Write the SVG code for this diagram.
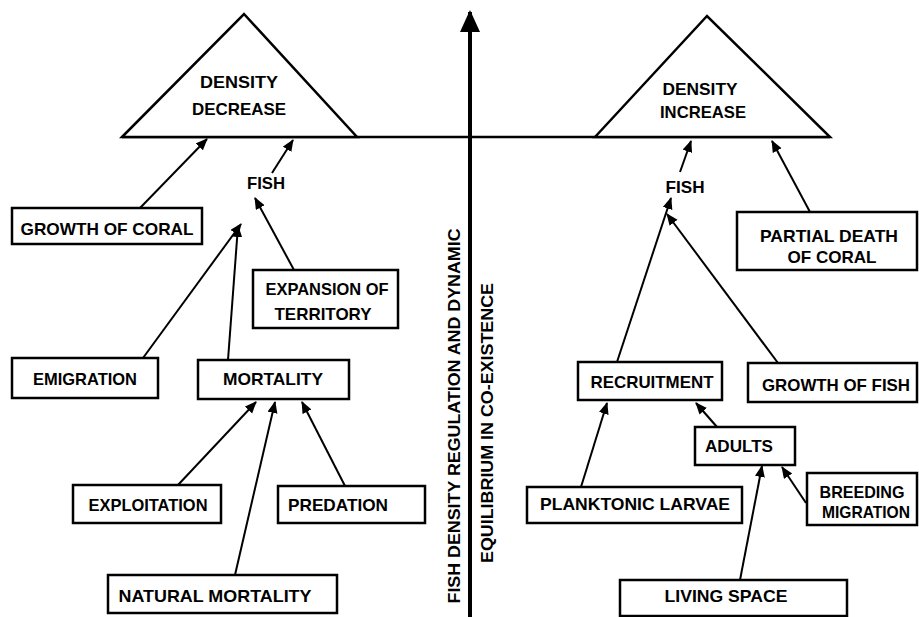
<svg xmlns="http://www.w3.org/2000/svg" width="919" height="617" viewBox="0 0 919 617">
<style>
.b{fill:#fff;stroke:#000;stroke-width:2.5}
.t{font-family:"Liberation Sans",Arial,sans-serif;font-weight:bold;font-size:17px;fill:#000;text-anchor:middle}
.c{fill:none;stroke:#000;stroke-width:2}
</style>
<defs>
<marker id="ah" markerUnits="userSpaceOnUse" markerWidth="14" markerHeight="12" refX="11" refY="5" orient="auto">
<path d="M0,0 L12,5 L0,10 Z" fill="#000"/>
</marker>
<marker id="big" markerUnits="userSpaceOnUse" markerWidth="24" markerHeight="24" refX="20" refY="10" orient="auto">
<path d="M0,0 L22,10 L0,20 Z" fill="#000"/>
</marker>
</defs>
<rect width="919" height="617" fill="#fff"/>

<g id="axis">
<line x1="470" y1="617" x2="470" y2="12" stroke="#000" stroke-width="4" marker-end="url(#big)"/>
<line x1="122" y1="137" x2="830" y2="137" stroke="#000" stroke-width="2.5"/>
<text class="t" transform="translate(460,416) rotate(-90)" textLength="375" lengthAdjust="spacingAndGlyphs">FISH DENSITY REGULATION AND DYNAMIC</text>
<text class="t" transform="translate(493,423) rotate(-90)" textLength="280" lengthAdjust="spacingAndGlyphs">EQUILIBRIUM IN CO-EXISTENCE</text>
</g>

<g id="density-decrease">
<polygon class="b" points="122,137 244,14 357,137"/>
<text class="t" x="239" y="88" textLength="78" lengthAdjust="spacingAndGlyphs">DENSITY</text>
<text class="t" x="239" y="115" textLength="94" lengthAdjust="spacingAndGlyphs">DECREASE</text>
</g>
<g id="density-increase">
<polygon class="b" points="595,137 707,16 830,137"/>
<text class="t" x="700" y="95" textLength="75" lengthAdjust="spacingAndGlyphs">DENSITY</text>
<text class="t" x="703" y="118" textLength="86" lengthAdjust="spacingAndGlyphs">INCREASE</text>
</g>

<g id="fish-left"><text class="t" x="266" y="189" textLength="38" lengthAdjust="spacingAndGlyphs">FISH</text></g>
<g id="fish-right"><text class="t" x="685" y="193" textLength="39" lengthAdjust="spacingAndGlyphs">FISH</text></g>

<g id="growth-coral">
<rect class="b" x="12" y="208" width="190" height="36"/>
<text class="t" x="107" y="235" textLength="173" lengthAdjust="spacingAndGlyphs">GROWTH OF CORAL</text>
</g>
<g id="expansion">
<rect class="b" x="253" y="270" width="145" height="58"/>
<text class="t" x="327" y="295" textLength="123" lengthAdjust="spacingAndGlyphs">EXPANSION OF</text>
<text class="t" x="323" y="320" textLength="97" lengthAdjust="spacingAndGlyphs">TERRITORY</text>
</g>
<g id="emigration">
<rect class="b" x="12" y="358" width="146" height="40"/>
<text class="t" x="85" y="385" textLength="104" lengthAdjust="spacingAndGlyphs">EMIGRATION</text>
</g>
<g id="mortality">
<rect class="b" x="198" y="360" width="151" height="39"/>
<text class="t" x="273" y="385" textLength="100" lengthAdjust="spacingAndGlyphs">MORTALITY</text>
</g>
<g id="exploitation">
<rect class="b" x="73" y="485" width="148" height="38"/>
<text class="t" x="148" y="511" textLength="119" lengthAdjust="spacingAndGlyphs">EXPLOITATION</text>
</g>
<g id="predation">
<rect class="b" x="278" y="486" width="147" height="37"/>
<text class="t" x="338" y="511" textLength="100" lengthAdjust="spacingAndGlyphs">PREDATION</text>
</g>
<g id="natural-mortality">
<rect class="b" x="108" y="575" width="229" height="38"/>
<text class="t" x="215" y="602" textLength="193" lengthAdjust="spacingAndGlyphs">NATURAL MORTALITY</text>
</g>

<g id="partial-death">
<rect class="b" x="737" y="212" width="180" height="58"/>
<text class="t" x="829" y="242" textLength="138" lengthAdjust="spacingAndGlyphs">PARTIAL DEATH</text>
<text class="t" x="832" y="263" textLength="89" lengthAdjust="spacingAndGlyphs">OF CORAL</text>
</g>
<g id="recruitment">
<rect class="b" x="578" y="362" width="144" height="38"/>
<text class="t" x="652" y="388" textLength="123" lengthAdjust="spacingAndGlyphs">RECRUITMENT</text>
</g>
<g id="growth-fish">
<rect class="b" x="748" y="363" width="169" height="39"/>
<text class="t" x="836" y="391" textLength="148" lengthAdjust="spacingAndGlyphs">GROWTH OF FISH</text>
</g>
<g id="adults">
<rect class="b" x="695" y="427" width="100" height="38"/>
<text class="t" x="739" y="452" textLength="68" lengthAdjust="spacingAndGlyphs">ADULTS</text>
</g>
<g id="planktonic">
<rect class="b" x="527" y="487" width="215" height="36"/>
<text class="t" x="635" y="510" textLength="190" lengthAdjust="spacingAndGlyphs">PLANKTONIC LARVAE</text>
</g>
<g id="breeding">
<rect class="b" x="807" y="473" width="110" height="52"/>
<text class="t" x="862" y="498" textLength="85" lengthAdjust="spacingAndGlyphs">BREEDING</text>
<text class="t" x="866" y="518" textLength="88" lengthAdjust="spacingAndGlyphs">MIGRATION</text>
</g>
<g id="living-space">
<rect class="b" x="620" y="580" width="227" height="36"/>
<text class="t" x="726" y="602" textLength="123" lengthAdjust="spacingAndGlyphs">LIVING SPACE</text>
</g>

<g id="connectors">
<line class="c" x1="140" y1="208" x2="207" y2="139" marker-end="url(#ah)"/>
<line class="c" x1="272" y1="173" x2="293" y2="140" marker-end="url(#ah)"/>
<line class="c" x1="143" y1="358" x2="241" y2="224" marker-end="url(#ah)"/>
<line class="c" x1="228" y1="360" x2="238" y2="226" marker-end="url(#ah)"/>
<line class="c" x1="294" y1="270" x2="255" y2="198" marker-end="url(#ah)"/>
<line class="c" x1="178" y1="485" x2="256" y2="402" marker-end="url(#ah)"/>
<line class="c" x1="235" y1="575" x2="275" y2="402" marker-end="url(#ah)"/>
<line class="c" x1="345" y1="486" x2="302" y2="402" marker-end="url(#ah)"/>
<line class="c" x1="680" y1="172" x2="691" y2="141" marker-end="url(#ah)"/>
<line class="c" x1="810" y1="212" x2="772" y2="141" marker-end="url(#ah)"/>
<line class="c" x1="617" y1="362" x2="671" y2="198" marker-end="url(#ah)"/>
<line class="c" x1="778" y1="363" x2="667" y2="214" marker-end="url(#ah)"/>
<line class="c" x1="717" y1="427" x2="696" y2="403" marker-end="url(#ah)"/>
<line class="c" x1="581" y1="487" x2="607" y2="403" marker-end="url(#ah)"/>
<line class="c" x1="806" y1="503" x2="782" y2="467" marker-end="url(#ah)"/>
<line class="c" x1="740" y1="580" x2="762" y2="466" marker-end="url(#ah)"/>
</g>
</svg>
